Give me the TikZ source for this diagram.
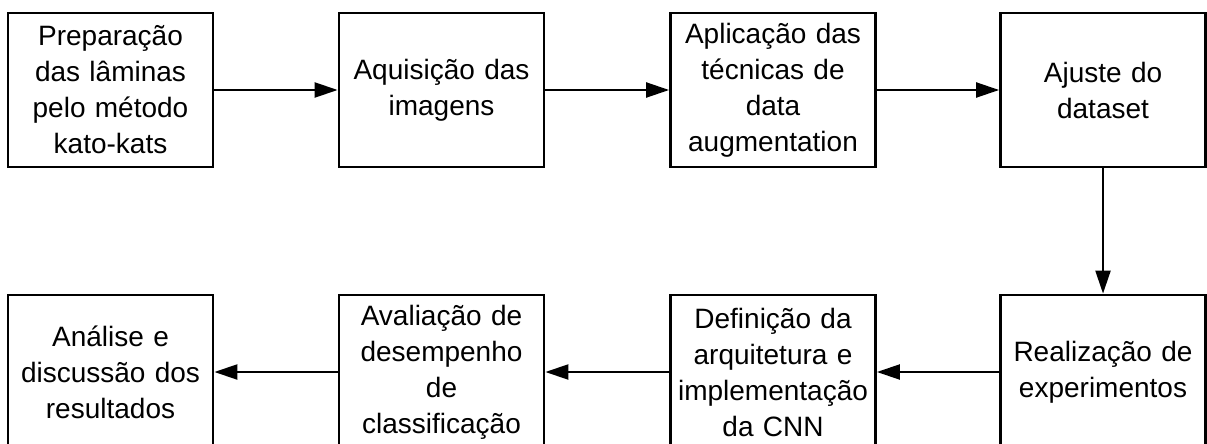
\documentclass[tikz,border=0pt]{standalone}
\usepackage{fontspec}
\setmainfont{Liberation Sans}
\usepackage{tikz}
\usetikzlibrary{arrows.meta}

\begin{document}
\begin{tikzpicture}[line join=miter,>={Triangle[length=23pt,width=15pt]},x=1pt,y=-1pt,
  etapa/.style={draw,line width=2.8pt,minimum width=205pt,minimum height=154pt,
    text width=200pt,align=center,inner sep=0pt,font=\fontsize{28}{36}\selectfont},
  seta/.style={->,line width=2.2pt}]
\useasboundingbox (0,0) rectangle (1207,444);
\clip (0,0) rectangle (1207,444);
% linha de cima
\node[etapa] (prep) at (110.5,90) {Preparação\\das lâminas\\pelo método\\kato-kats};
\node[etapa] (aquis) at (441.5,90) {Aquisição das\\imagens};
\node[etapa] (aug) at (773,90) {Aplicação das\\técnicas de\\data\\augmentation};
\node[etapa] (ajuste) at (1103,90) {Ajuste do\\dataset};
% linha de baixo
\node[etapa] (exper) at (1103,372) {Realização de\\experimentos};
\node[etapa] (cnn) at (773,372) {Definição da\\arquitetura e\\implementação\\da CNN};
\node[etapa] (aval) at (441.5,372) {Avaliação de\\desempenho\\de\\classificação};
\node[etapa] (anal) at (110.5,372) {Análise e\\discussão dos\\resultados};
\draw[seta] (prep) -- (aquis);
\draw[seta] (aquis) -- (aug);
\draw[seta] (aug) -- (ajuste);
\draw[seta] (ajuste) -- (exper);
\draw[seta] (exper) -- (cnn);
\draw[seta] (cnn) -- (aval);
\draw[seta] (aval) -- (anal);
\end{tikzpicture}
\end{document}
